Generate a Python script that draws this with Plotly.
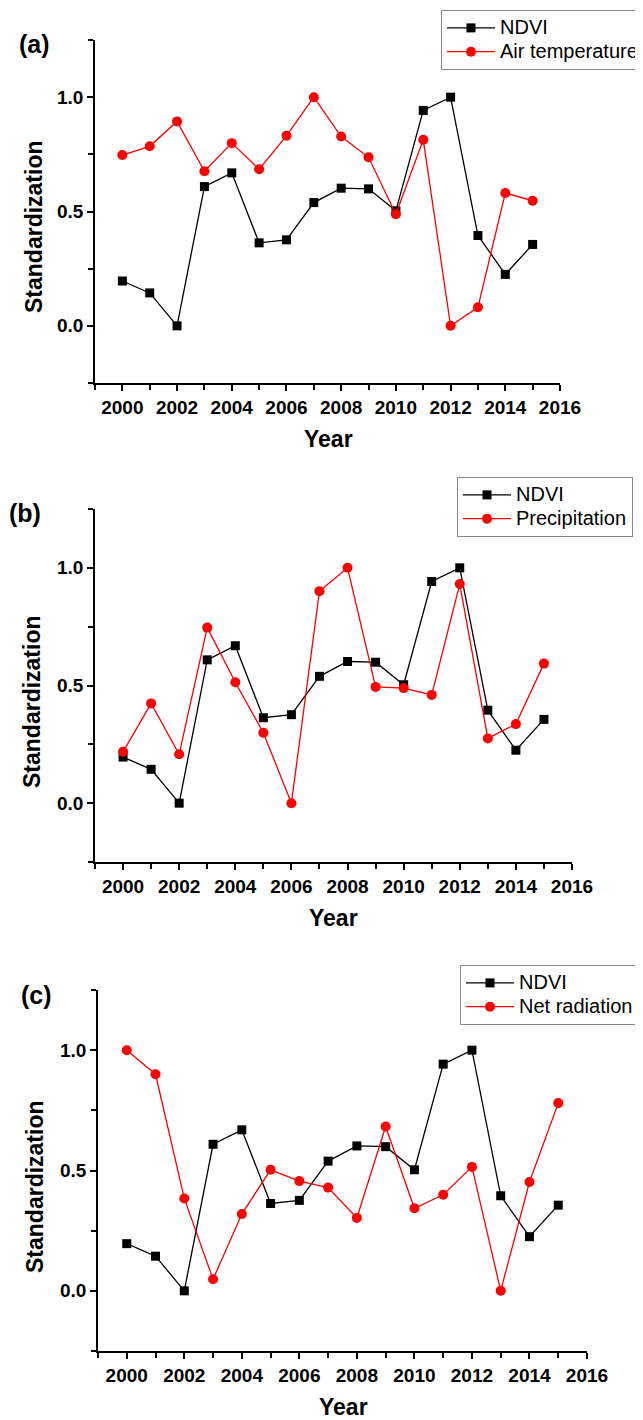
import plotly.graph_objects as go

years = list(range(2000, 2016))
ndvi = [0.196, 0.144, 0.0, 0.609, 0.669, 0.363, 0.376, 0.539, 0.602, 0.599,
        0.503, 0.942, 1.0, 0.395, 0.225, 0.356]
air_temperature = [0.747, 0.785, 0.894, 0.676, 0.799, 0.685, 0.831, 1.0, 0.828, 0.737,
                   0.488, 0.814, 0.0, 0.081, 0.581, 0.547]
precipitation = [0.218, 0.424, 0.208, 0.746, 0.514, 0.299, 0.0, 0.901, 1.0, 0.494,
                 0.489, 0.460, 0.931, 0.275, 0.336, 0.593]
net_radiation = [1.0, 0.900, 0.384, 0.048, 0.319, 0.503, 0.456, 0.429, 0.303, 0.683,
                 0.343, 0.399, 0.515, 0.0, 0.452, 0.780]

panels = [
    ("(a)", "Air temperature", air_temperature),
    ("(b)", "Precipitation", precipitation),
    ("(c)", "Net radiation", net_radiation),
]

W, H = 643, 1420
OFF = 8  # page body margin offset
FONT = "Liberation Sans, Arial, sans-serif"

def px(x):
    return (x - OFF) / W

def py(y):
    return 1 - (y - OFF) / H

def leg_name(s):
    return '<span style="font-size:20px">' + s + '</span>'

# target page-pixel layout of each panel: (x_left, x_right, y_top, y_bottom)
boxes = [(95, 560, 40, 383), (95, 572, 509, 862), (98, 587, 990, 1351)]
legend_pos = [(441, 10), (457, 477), (460, 965)]
label_pos = [(34, 44), (25, 513), (36, 995)]
ytitle_pos = [(34, 227), (32, 702), (35, 1187)]
xtitle_pos = [(328, 439), (333, 918), (343, 1407)]

fig = go.Figure()
annotations = []
for i, (lab, name, vals) in enumerate(panels):
    k = "" if i == 0 else str(i + 1)
    xa, ya = "x" + k, "y" + k
    lg = "legend" + k
    fig.add_trace(go.Scatter(
        x=years, y=ndvi, name=leg_name("NDVI"), mode="lines+markers",
        line=dict(color="black", width=1.3),
        marker=dict(symbol="square", size=9, color="black"),
        xaxis=xa, yaxis=ya, legend=lg))
    fig.add_trace(go.Scatter(
        x=years, y=vals, name=leg_name(name), mode="lines+markers",
        line=dict(color="#ff0000", width=1.3),
        marker=dict(symbol="circle", size=10, color="#ff0000"),
        xaxis=xa, yaxis=ya, legend=lg))

    x0, x1, y0, y1 = boxes[i]
    axis_common = dict(showline=True, linecolor="black", linewidth=1.5,
                       showgrid=False, zeroline=False, ticks="outside",
                       ticklen=6, tickwidth=1.5, tickcolor="black",
                       tickfont=dict(family=FONT, size=19, color="black", weight="bold"))
    fig.layout["xaxis" + k] = dict(
        domain=[px(x0), px(x1)], anchor=ya, range=[1999, 2016],
        tick0=2000, dtick=2,
        minor=dict(dtick=1, tick0=2000, ticks="outside", ticklen=5, tickwidth=1.5,
                   tickcolor="black"),
        **axis_common)
    fig.layout["yaxis" + k] = dict(
        domain=[py(y1), py(y0)], anchor=xa, range=[-0.25, 1.25],
        tick0=0, dtick=0.5, tickformat=".1f",
        minor=dict(dtick=0.25, tick0=0, ticks="outside", ticklen=5, tickwidth=1.5,
                   tickcolor="black"),
        **axis_common)
    lx, ly = legend_pos[i]
    fig.layout[lg] = dict(
        x=px(lx), y=py(ly), xanchor="left", yanchor="top",
        bgcolor="white", bordercolor="#888888", borderwidth=1,
        font=dict(family=FONT, size=16, color="black"),
        tracegroupgap=0, itemwidth=48)

    lx_, ly_ = label_pos[i]
    annotations.append(dict(text="<b>" + lab + "</b>", x=px(lx_), y=py(ly_),
                            xanchor="center", yanchor="middle",
                            xref="paper", yref="paper", showarrow=False,
                            font=dict(family=FONT, size=25, color="black")))
    tx, ty = ytitle_pos[i]
    annotations.append(dict(text="<b>Standardization</b>", x=px(tx), y=py(ty),
                            xanchor="center", yanchor="middle",
                            xref="paper", yref="paper", showarrow=False, textangle=-90,
                            font=dict(family=FONT, size=23, color="black")))
    tx, ty = xtitle_pos[i]
    annotations.append(dict(text="<b>Year</b>", x=px(tx), y=py(ty),
                            xanchor="center", yanchor="middle",
                            xref="paper", yref="paper", showarrow=False,
                            font=dict(family=FONT, size=23, color="black")))

fig.update_layout(
    width=W, height=H,
    margin=dict(l=0, r=0, t=0, b=0, autoexpand=False),
    paper_bgcolor="white", plot_bgcolor="white",
    annotations=annotations,
)
fig.write_html("out.html")
